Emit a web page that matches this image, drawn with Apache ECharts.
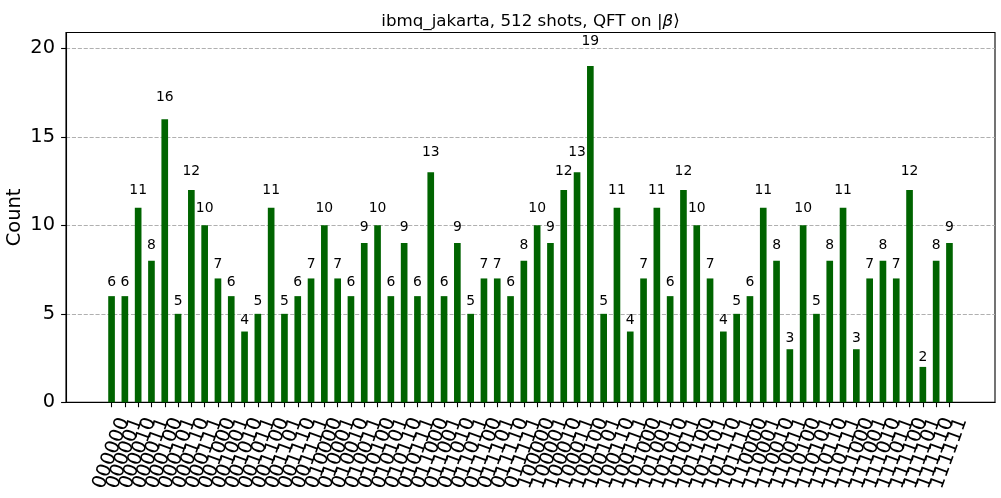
<!DOCTYPE html>
<html>
<head>
<meta charset="utf-8">
<script src="https://cdn.jsdelivr.net/npm/echarts@6/dist/echarts.min.js"></script>
<style>
  html, body { margin: 0; padding: 0; background: #fff; }
  #chart { width: 1001px; height: 498px; }
</style>
</head>
<body>
<div id="chart"></div>
<script>
// Etats mesurés (64 chaînes de 6 bits)
const etats = [
    '000000', '000001', '000010', '000011', '000100', '000101', '000110', '000111',
    '001000', '001001', '001010', '001011', '001100', '001101', '001110', '001111',
    '010000', '010001', '010010', '010011', '010100', '010101', '010110', '010111',
    '011000', '011001', '011010', '011011', '011100', '011101', '011110', '011111',
    '100000', '100001', '100010', '100011', '100100', '100101', '100110', '100111',
    '101000', '101001', '101010', '101011', '101100', '101101', '101110', '101111',
    '110000', '110001', '110010', '110011', '110100', '110101', '110110', '110111',
    '111000', '111001', '111010', '111011', '111100', '111101', '111110', '111111'
];

// Comptes par état (512 tirs)
const comptes = [
    6, 6, 11, 8, 16, 5, 12, 10, 7, 6, 4, 5, 11, 5, 6, 7,
    10, 7, 6, 9, 10, 6, 9, 6, 13, 6, 9, 5, 7, 7, 6, 8,
    10, 9, 12, 13, 19, 5, 11, 4, 7, 11, 6, 12, 10, 7, 4, 5,
    6, 11, 8, 3, 10, 5, 8, 11, 3, 7, 8, 7, 12, 2, 8, 9
];

// Graduations de l'axe Y
const ticksY = [0, 5, 10, 15, 20];

const police = 'DejaVu Sans';
const positions = etats.map((e, i) => i);
// deux étiquettes vides aux bords : ECharts masque la première/dernière si elles se chevauchent
const positionsLabels = [-3].concat(positions, [66]);
const donnees = comptes.map((c, i) => [i, c]);

const chart = echarts.init(document.getElementById('chart'));
const option = {
    animation: false,
    backgroundColor: '#ffffff',
    title: {
        text: 'ibmq_jakarta, 512 shots, QFT on |{b|β}⟩',
        left: 530.5,
        top: 13.5,
        padding: 0,
        textAlign: 'center',
        textStyle: {
            fontFamily: police,
            fontSize: 16.7,
            fontWeight: 'normal',
            color: '#000',
            rich: {
                b: { fontFamily: police, fontSize: 16.7, fontStyle: 'italic', color: '#000' }
            }
        }
    },
    grid: {
        left: 66, right: 6, top: 32.5, bottom: 95.7,
        show: true, borderColor: '#000', borderWidth: 1.1,
        containLabel: false,
        outerBoundsMode: 'none'
    },
    xAxis: {
        type: 'value',
        min: -3.425,
        max: 66.425,
        axisLine: { show: true, onZero: false, lineStyle: { color: '#000', width: 1.1 } },
        axisTick: {
            show: true, length: 4.9, customValues: positions,
            lineStyle: { color: '#000', width: 1.1 }
        },
        axisLabel: {
            customValues: positionsLabels,
            formatter: v => etats[v] || '',
            hideOverlap: false,
            rotate: 70,
            align: 'center',
            verticalAlign: 'middle',
            margin: 51,
            fontFamily: police,
            fontSize: 19.4,
            color: '#000'
        },
        splitLine: { show: false }
    },
    yAxis: {
        type: 'value',
        min: 0,
        max: 20.9,
        interval: 5,
        name: 'Count',
        nameLocation: 'middle',
        nameRotate: 90,
        nameGap: 42,
        nameMoveOverlap: false,
        nameTextStyle: { fontFamily: police, fontSize: 19.4, color: '#000' },
        axisLine: { show: true, onZero: false, lineStyle: { color: '#000', width: 1.1 } },
        axisTick: {
            show: true, length: 4.9, customValues: ticksY,
            lineStyle: { color: '#000', width: 1.1 }
        },
        axisLabel: {
            customValues: ticksY,
            margin: 11,
            fontFamily: police,
            fontSize: 19.4,
            color: '#000'
        },
        splitLine: {
            show: true,
            lineStyle: { color: '#b0b0b0', width: 1.1, type: [4.1, 1.8] }
        }
    },
    series: [
        {
            type: 'bar',
            data: donnees,
            barWidth: 6.66,
            itemStyle: { color: '#006400' },
            z: 3
        },
        {
            // étiquettes au-dessus des barres (à 1.05 x la hauteur, comme matplotlib)
            type: 'custom',
            data: donnees,
            z: 4,
            renderItem: function (params, api) {
                const p = api.coord([api.value(0), api.value(1) * 1.05]);
                return {
                    type: 'text',
                    x: p[0],
                    y: p[1] - 1,
                    style: {
                        text: String(api.value(1)),
                        textAlign: 'center',
                        textVerticalAlign: 'bottom',
                        fontFamily: police,
                        fontSize: 13.9,
                        fill: '#000'
                    }
                };
            }
        }
    ]
};
chart.setOption(option);
</script>
</body>
</html>
